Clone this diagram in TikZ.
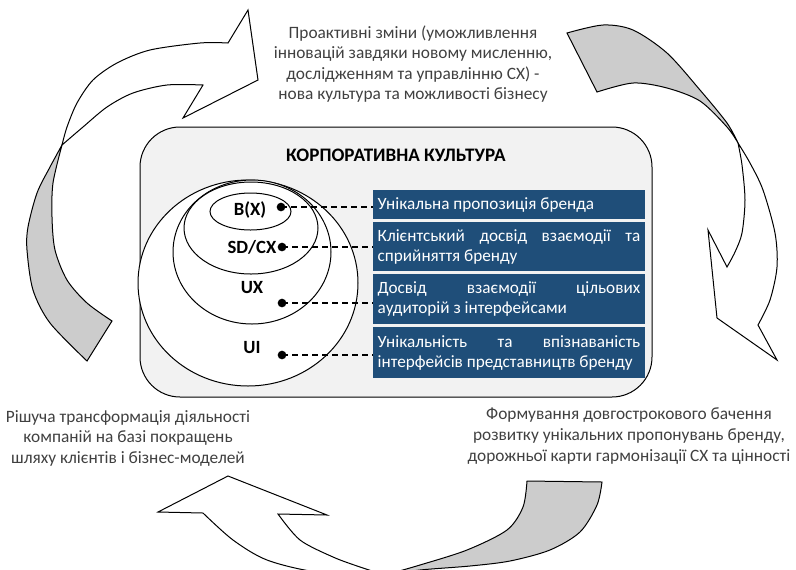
\documentclass[tikz,border=0pt]{standalone}
\usepackage{fontspec}
\setmainfont{Carlito}
\definecolor{bluebox}{HTML}{1F4E79}
\definecolor{txtgray}{HTML}{404040}
\definecolor{tailgray}{HTML}{CCCCCC}
\definecolor{boxgray}{HTML}{F2F2F2}
\newcommand{\jline}[1]{\makebox[197pt][s]{\spaceskip=.25em plus 1fil\relax #1}}
\begin{document}
\begin{tikzpicture}[x=0.75pt,y=-0.75pt,
  lbl/.style={align=center, text=txtgray, font=\fontsize{13}{15.4}\selectfont, inner sep=0pt},
  bbox/.style={fill=bluebox, text=white, text width=197pt, inner xsep=3.5pt, inner ysep=0pt, align=justify, font=\fontsize{12.9}{15}\selectfont},
  bdot/.style={circle, fill=black, inner sep=0pt, minimum size=6.5pt},
  clbl/.style={font=\bfseries\fontsize{14}{16}\selectfont, inner sep=0pt},
  conn/.style={line width=0.9pt, dash pattern=on 4.5pt off 3pt},
  arrw/.style={fill=white, draw=black, line width=0.75pt, line join=miter},
  tail/.style={fill=tailgray, draw=black, line width=0.75pt},
  ell/.style={fill=white, draw=black, line width=0.75pt}]
\useasboundingbox (0,0) rectangle (796,569);

% ---- circular arrows ----
% top-left arrow: gray tail
\filldraw[tail] plot[smooth] coordinates {(62,145) (53,183) (52,217) (55,250) (67,280) (87,303) (112,321)}
  -- plot[smooth] coordinates {(87,361) (50,323) (33,290) (27,250) (28,227) (37,193) (50,167) (62,145)} -- cycle;
% top-left arrow: white head
\filldraw[arrw] plot[smooth] coordinates {(62,145) (67,127) (77,103) (93,80) (117,63) (150,50) (200,43) (228,43)}
  -- (248,10) -- (258,80) -- (183,118)
  -- plot[smooth] coordinates {(203,85) (167,85) (133,93) (107,107) (83,127) (62,145)} -- cycle;

% right arrow: gray tail
\filldraw[tail] plot[smooth] coordinates {(567,33) (603,25) (633,30) (667,53) (700,90) (727,123) (738,143)}
  -- plot[smooth] coordinates {(738,143) (727,127) (700,101) (667,88) (633,83) (597,92)} -- cycle;
% right arrow: white head
\filldraw[arrw] plot[smooth] coordinates {(738,143) (742,165) (745,200) (742,233) (735,252) (727,267)}
  -- (708,230) -- (717,318) -- (777,360)
  -- plot[smooth] coordinates {(758,325) (770,300) (777,267) (775,233) (763,190) (750,163) (738,143)} -- cycle;

% bottom arrow: gray tail
\filldraw[tail] plot[smooth] coordinates {(527,481) (523,507) (507,530) (467,550) (420,565) (385,575)}
  -- plot[smooth] coordinates {(385,575) (420,570) (470,566) (510,561) (550,550) (580,532) (597,505) (602,482)} -- cycle;
% bottom arrow: white head
\filldraw[arrw] plot[smooth] coordinates {(203,513) (233,540) (267,560) (317,572) (385,575)}
  -- plot[smooth] coordinates {(385,575) (360,567) (333,557) (300,540) (278,514)}
  -- (327,515) -- (228,476) -- (158,512) -- cycle;

% ---- outer labels ----
\node[lbl] (ltop) at (413,64) {Проактивні зміни (уможливлення\\інновацій завдяки новому мисленню,\\дослідженням та управлінню CX) -\\нова культура та можливості бізнесу};
\node[lbl] (lright) at (629,436) {Формування довгострокового бачення\\розвитку унікальних пропонувань бренду,\\дорожньої карти гармонізації CX та цінності};
\node[lbl] (lleft) at (128,438) {Рішуча трансформація діяльності\\компаній на базі покращень\\шляху клієнтів і бізнес-моделей};

% ---- central box ----
\draw[fill=boxgray, line width=0.75pt, rounded corners=30pt] (140,127) rectangle (652,397);
\node[font=\bfseries\fontsize{14.3}{16}\selectfont] (title) at (396,155) {КОРПОРАТИВНА КУЛЬТУРА};

\draw[ell] (248,283) ellipse [x radius=110, y radius=103];
\draw[ell] (252,252) ellipse [x radius=79, y radius=72];
\draw[ell] (251,228) ellipse [x radius=67, y radius=46];
\draw[ell] (250.5,211.5) ellipse [x radius=40.5, y radius=18.5];

\node[clbl] (cb) at (250,210) {B(X)};
\node[clbl] (csd) at (252,247) {SD/CX};
\node[clbl] (cux) at (252,288) {UX};
\node[clbl] (cui) at (252,348) {UI};

\node[bdot] (d1) at (281,207) {};
\node[bdot] (d2) at (282,247) {};
\node[bdot] (d3) at (282,303) {};
\node[bdot] (d4) at (282,355) {};

\node[bbox, minimum height=21.75pt] (b1) at (509,204.5) {Унікальна пропозиція бренда};
\node[bbox, minimum height=36.75pt] (b2) at (509,246.5) {\jline{Клієнтський досвід взаємодії та}\\сприйняття бренду};
\node[bbox, minimum height=37.5pt] (b3) at (509,299) {\jline{Досвід взаємодії цільових}\\аудиторій з інтерфейсами};
\node[bbox, minimum height=38.25pt] (b4) at (509,352.5) {\jline{Унікальність та впізнаваність}\\інтерфейсів представництв бренду};

\draw[conn] (d1.center) -- (d1.center -| b1.west);
\draw[conn] (d2.center) -- (d2.center -| b2.west);
\draw[conn] (d3.center) -- (d3.center -| b3.west);
\draw[conn] (d4.center) -- (d4.center -| b4.west);
\end{tikzpicture}
\end{document}
